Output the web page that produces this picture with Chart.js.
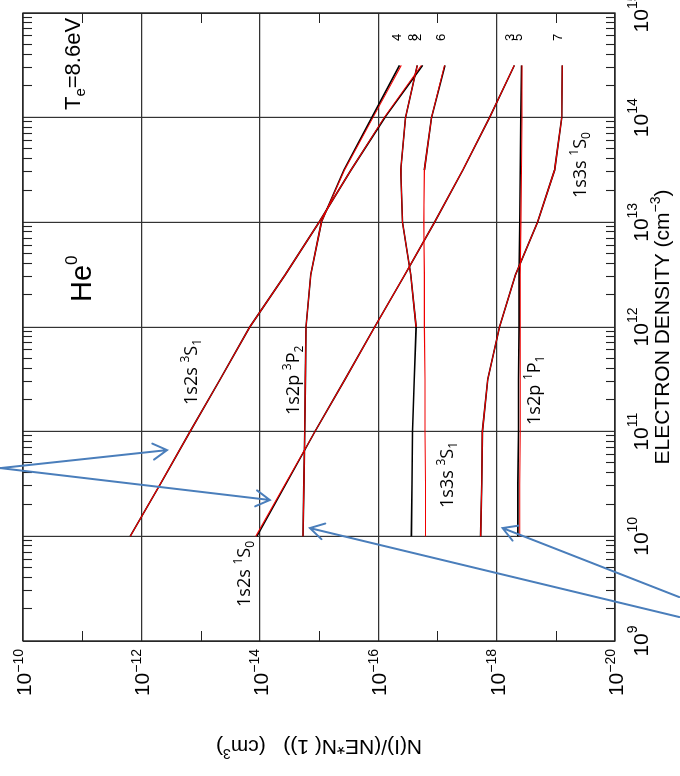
<!DOCTYPE html>
<html>
<head>
<meta charset="utf-8">
<script src="https://cdn.jsdelivr.net/npm/chart.js@4.4.1/dist/chart.umd.min.js"></script>
<style>
  html, body { margin: 0; padding: 0; width: 680px; height: 776px; overflow: hidden; background: #fff; }
  /* the plot is laid out landscape and turned a quarter turn counter-clockwise */
  #wrap { position: absolute; left: 0; top: 0; width: 776px; height: 680px;
          transform-origin: 0 0; transform: translate(0, 776px) rotate(-90deg); }
  canvas { display: block; }
</style>
</head>
<body>
<div id="wrap"><canvas id="c" width="776" height="680"></canvas></div>
<script>
// Electron density grid (cm^-3)
const density = [1e10, 3.16e10, 1e11, 3.16e11, 1e12, 3.16e12, 1e13, 3.16e13, 1e14, 3.16e14];

// log10 of N(I)/(NE*N(1)) in cm^3, first model (black)
const blk2 = [-11.81, -12.32, -12.82, -13.33, -13.83, -14.43, -15.00, -15.54, -16.11, -16.75];
const blk3 = [-13.95, -14.44, -14.93, -15.44, -15.94, -16.45, -16.95, -17.43, -17.88, -18.30];
const blk4 = [-14.73, -14.745, -14.76, -14.77, -14.78, -14.86, -15.04, -15.42, -15.89, -16.36];
const blk5 = [-18.36, -18.36, -18.37, -18.37, -18.38, -18.38, -18.39, -18.40, -18.41, -18.42];
const blk6 = [null, null, null, null, null, null, null, -16.78, -16.90, -17.13];
const blk7 = [-17.73, -17.75, -17.76, -17.85, -18.05, -18.32, -18.69, -18.98, -19.10, -19.11];
const blk8 = [-16.56, -16.57, -16.58, -16.61, -16.64, -16.55, -16.41, -16.38, -16.46, -16.66];

// second model (red)
const red2 = [-11.81, -12.32, -12.82, -13.33, -13.83, -14.43, -15.00, -15.54, -16.10, -16.73];
const red3 = [-13.93, -14.43, -14.93, -15.44, -15.94, -16.45, -16.95, -17.43, -17.88, -18.30];
const red4 = [-14.73, -14.745, -14.76, -14.77, -14.78, -14.86, -15.04, -15.43, -15.91, -16.39];
const red5 = [-18.39, -18.39, -18.40, -18.40, -18.40, -18.40, -18.41, -18.42, -18.43, -18.43];
const red6 = [-16.80, -16.80, -16.79, -16.79, -16.78, -16.78, -16.77, -16.78, -16.90, -17.12];
const red7 = [-17.73, -17.75, -17.76, -17.85, -18.05, -18.32, -18.69, -18.98, -19.10, -19.11];
const red8 = [null, null, null, null, -16.64, -16.55, -16.41, -16.38, -16.46, -16.66];

// level numbers written at the high-density end of each curve
const levelIds = ['2', '3', '4', '5', '6', '7', '8'];

// axis decades
const densityDecades = [9, 10, 11, 12, 13, 14, 15];
const popDecades = [-10, -12, -14, -16, -18, -20];
const popOddDecades = [-11, -13, -15, -17, -19];

const blkSets = [blk2, blk3, blk4, blk5, blk6, blk7, blk8];
const redSets = [red2, red3, red4, red5, red6, red7, red8];

function toPoints(vals) {
  return density.map((d, i) => ({ x: d, y: vals[i] === null ? null : Math.pow(10, vals[i]) }));
}

const datasets = [];
redSets.forEach((v, i) => datasets.push({
  label: 'red ' + levelIds[i], data: toPoints(v), borderColor: '#f00000',
  borderWidth: 1.1, order: 0, tension: 0, pointRadius: 0, spanGaps: false
}));
blkSets.forEach((v, i) => datasets.push({
  label: 'black ' + levelIds[i], data: toPoints(v), borderColor: '#000000',
  borderWidth: 1.6, order: 1, tension: 0, pointRadius: 0, spanGaps: false
}));

// curve captions: [log10 density, log10 population, rich-text parts]
const captions = [
  [11.255, -12.939, [['1s2s ', 18, 0], ['3', 12, -8], ['S', 18, 0], ['1', 12, 4]]],
  [11.159, -14.662, [['1s2p ', 18, 0], ['3', 12, -8], ['P', 18, 0], ['2', 12, 4]]],
  [9.325, -13.834, [['1s2s ', 18, 0], ['1', 12, -8], ['S', 18, 0], ['0', 12, 4]]],
  [10.271, -17.264, [['1s3s ', 18, 0], ['3', 12, -8], ['S', 18, 0], ['1', 12, 4]]],
  [11.064, -18.733, [['1s2p ', 18, 0], ['1', 12, -8], ['P', 18, 0], ['1', 12, 4]]],
  [13.232, -19.51, [['1s3s ', 18, 0], ['1', 12, -8], ['S', 18, 0], ['0', 12, 4]]]
];

// pointer arrows: from / to in [log10 density, log10 population]
const arrows = [
  [[10.652, -9.617], [10.824, -12.433]],
  [[10.652, -9.617], [10.347, -14.170]],
  [[9.229, -21.084], [10.079, -14.845]],
  [[9.420, -21.084], [10.079, -18.10]]
];

const AX_FONT = "'Liberation Sans', Arial, sans-serif";
const LBL_FONT = "'Open Sans', 'Liberation Sans', sans-serif";

function rich(ctx, x, y, parts, align, family) {
  let total = 0;
  parts.forEach(p => { ctx.font = p[1] + 'px ' + family; total += ctx.measureText(p[0]).width; });
  let cx = align === 'center' ? x - total / 2 : align === 'right' ? x - total : x;
  ctx.textAlign = 'left';
  ctx.textBaseline = 'alphabetic';
  parts.forEach(p => {
    ctx.font = p[1] + 'px ' + family;
    ctx.fillText(p[0], cx, y + p[2]);
    cx += ctx.measureText(p[0]).width;
  });
}

const decor = {
  id: 'decor',
  beforeDraw(chart) {
    const ctx = chart.ctx;
    ctx.save();
    ctx.fillStyle = '#fff';
    ctx.fillRect(0, 0, chart.width, chart.height);
    ctx.restore();
  },
  beforeDatasetsDraw(chart) {
    const { ctx, chartArea: a, scales: { x, y } } = chart;
    ctx.save();
    ctx.strokeStyle = '#222';
    ctx.lineWidth = 1.3;
    ctx.strokeRect(a.left, a.top, a.right - a.left, a.bottom - a.top);
    ctx.lineWidth = 1.1;
    ctx.beginPath();
    // minor density ticks on top and bottom edges
    for (let e = 9; e < 15; e++) {
      for (let k = 2; k <= 9; k++) {
        const px = Math.round(x.getPixelForValue(k * Math.pow(10, e))) + 0.5;
        ctx.moveTo(px, a.bottom); ctx.lineTo(px, a.bottom - 9);
        ctx.moveTo(px, a.top); ctx.lineTo(px, a.top + 9);
      }
    }
    // odd-decade population ticks on left and right edges
    popOddDecades.forEach(e => {
      const py = Math.round(y.getPixelForValue(Math.pow(10, e))) + 0.5;
      ctx.moveTo(a.left, py); ctx.lineTo(a.left + 10, py);
      ctx.moveTo(a.right, py); ctx.lineTo(a.right - 10, py);
    });
    ctx.stroke();
    ctx.restore();
  },
  afterDraw(chart) {
    const { ctx, chartArea: a, scales: { x, y } } = chart;
    const X = v => x.getPixelForValue(Math.pow(10, v));
    const Y = v => y.getPixelForValue(Math.pow(10, v));
    ctx.save();
    ctx.fillStyle = '#000';

    // density tick labels
    densityDecades.forEach(e => {
      rich(ctx, X(e), 648, [['10', 21, 0], [String(e), 14, -11]], 'center', AX_FONT);
    });
    // population tick labels
    popDecades.forEach(e => {
      rich(ctx, a.left - 8, Y(e) + 8, [['10', 21, 0], ['\u2212' + Math.abs(e), 14, -8.5]], 'right', AX_FONT);
    });

    // axis titles
    rich(ctx, (a.left + a.right) / 2, 669,
      [['ELECTRON DENSITY (cm', 21, 0], ['\u22123', 14, -9], [')', 21, 0]], 'center', AX_FONT);
    ctx.save();
    ctx.translate(36, (a.top + a.bottom) / 2);
    ctx.rotate(-Math.PI / 2);
    rich(ctx, 0, 0, [['N(I)/(NE*N( 1))   (cm', 21, 0], ['3', 14, -9], [')', 21, 0]], 'center', AX_FONT);
    ctx.restore();

    // plot annotations
    rich(ctx, X(14.073), Y(-10.963), [['T', 22, 0], ['e', 15, 5], ['=8.6eV', 22, 0]], 'left', AX_FONT);
    rich(ctx, X(12.239), Y(-11.149), [['He', 29, 0], ['0', 17, -14]], 'left', AX_FONT);
    captions.forEach(c => rich(ctx, X(c[0]), Y(c[1]), c[2], 'left', LBL_FONT));

    // level numbers at curve ends
    ctx.font = '13px ' + AX_FONT;
    ctx.textAlign = 'left';
    ctx.textBaseline = 'alphabetic';
    redSets.forEach((v, i) => {
      ctx.fillText(levelIds[i], X(14.732), Y(v[v.length - 1]));
    });

    // arrows
    ctx.strokeStyle = '#4a7ebb';
    ctx.lineWidth = 2;
    ctx.lineCap = 'round';
    arrows.forEach(([f, t]) => {
      const x0 = X(f[0]), y0 = Y(f[1]), x1 = X(t[0]), y1 = Y(t[1]);
      const ang = Math.atan2(y1 - y0, x1 - x0);
      const L = 16, h = Math.PI / 6;
      ctx.beginPath();
      ctx.moveTo(x0, y0); ctx.lineTo(x1, y1);
      ctx.moveTo(x1 - L * Math.cos(ang - h), y1 - L * Math.sin(ang - h));
      ctx.lineTo(x1, y1);
      ctx.lineTo(x1 - L * Math.cos(ang + h), y1 - L * Math.sin(ang + h));
      ctx.stroke();
    });
    ctx.restore();
  }
};

new Chart(document.getElementById('c'), {
  type: 'line',
  data: { datasets },
  options: {
    responsive: false,
    animation: false,
    devicePixelRatio: 1,
    layout: { padding: { left: 135, right: 13, top: 23, bottom: 65 } },
    plugins: { legend: { display: false }, tooltip: { enabled: false } },
    elements: { point: { radius: 0 }, line: { tension: 0 } },
    scales: {
      x: {
        type: 'logarithmic', min: 1e9, max: 1e15,
        afterBuildTicks: s => { s.ticks = densityDecades.map(e => ({ value: Math.pow(10, e) })); },
        afterFit: s => { s.height = 0; },
        ticks: { display: false },
        grid: { color: '#333', lineWidth: 1.2, drawTicks: false },
        border: { display: false }
      },
      y: {
        type: 'logarithmic', min: 1e-20, max: 1e-10,
        afterBuildTicks: s => { s.ticks = popDecades.map(e => ({ value: Math.pow(10, e) })); },
        afterFit: s => { s.width = 0; },
        ticks: { display: false },
        grid: { color: '#333', lineWidth: 1.2, drawTicks: false },
        border: { display: false }
      }
    }
  },
  plugins: [decor]
});
</script>
</body>
</html>
